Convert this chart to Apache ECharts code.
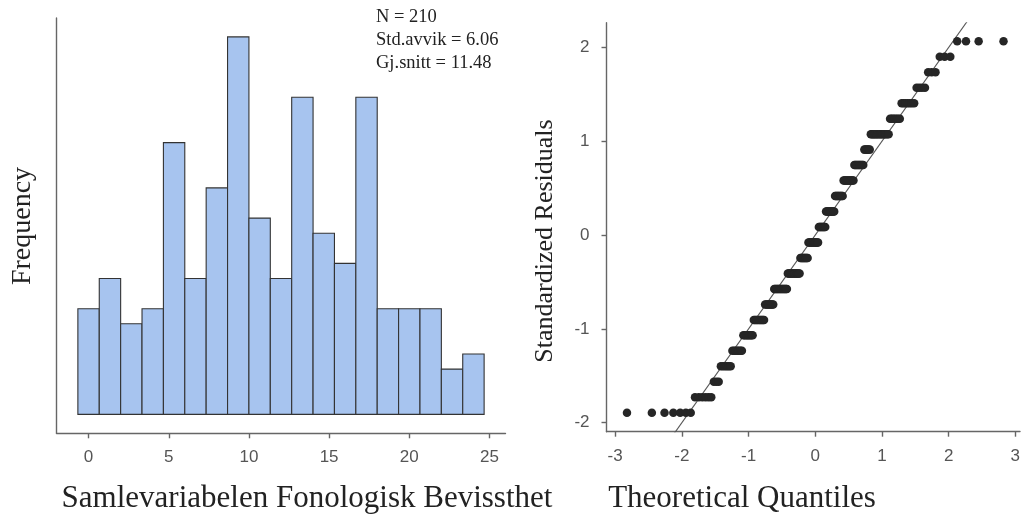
<!DOCTYPE html>
<html>
<head>
<meta charset="utf-8">
<script src="https://cdn.jsdelivr.net/npm/echarts@6/dist/echarts.min.js"></script>
<style>
html,body{margin:0;padding:0;background:#fff;}
#chart{width:1024px;height:520px;}
</style>
</head>
<body>
<div id="chart"></div>
<script>
// ---- Histogram data ----
const histEdges = [-0.667, 0.667, 2, 3.333, 4.667, 6, 7.333, 8.667, 10, 11.333, 12.667, 14, 15.333, 16.667, 18, 19.333, 20.667, 22, 23.333, 24.667];
const histFreq = [7, 9, 6, 7, 18, 9, 15, 25, 13, 9, 21, 12, 10, 21, 7, 7, 7, 3, 4];
const histTicks = [0, 5, 10, 15, 20, 25];
const statsLines = ['N = 210', 'Std.avvik = 6.06', 'Gj.snitt = 11.48'];
const histXTitle = 'Samlevariabelen Fonologisk Bevissthet';
const histYTitle = 'Frequency';

// ---- Q-Q plot data ----
const qqLevels = [-1.894, -1.729, -1.564, -1.399, -1.234, -1.069, -0.904, -0.739, -0.574, -0.409, -0.244, -0.079, 0.086, 0.251, 0.416, 0.581, 0.746, 0.911, 1.076, 1.241, 1.406, 1.571, 1.736, 1.901, 2.066];
const qqCounts = [7, 6, 3, 6, 7, 8, 10, 9, 15, 15, 10, 13, 9, 11, 10, 12, 10, 6, 15, 7, 7, 4, 3, 3, 4];
const qqTheoretical = [
 -2.823,-2.450,-2.260,-2.128,-2.025,-1.940,-1.867,-1.803,-1.745,-1.693,
 -1.645,-1.600,-1.559,-1.520,-1.483,-1.448,-1.415,-1.383,-1.352,-1.323,
 -1.295,-1.268,-1.242,-1.217,-1.192,-1.168,-1.145,-1.122,-1.100,-1.078,
 -1.057,-1.036,-1.016,-0.996,-0.977,-0.958,-0.939,-0.921,-0.903,-0.885,
 -0.868,-0.850,-0.833,-0.817,-0.800,-0.784,-0.768,-0.752,-0.736,-0.720,
 -0.705,-0.690,-0.674,-0.660,-0.645,-0.630,-0.615,-0.601,-0.587,-0.573,
 -0.559,-0.545,-0.531,-0.518,-0.504,-0.491,-0.477,-0.464,-0.451,-0.438,
 -0.425,-0.411,-0.398,-0.385,-0.373,-0.360,-0.347,-0.335,-0.322,-0.309,
 -0.297,-0.284,-0.272,-0.260,-0.247,-0.235,-0.223,-0.210,-0.198,-0.186,
 -0.174,-0.162,-0.150,-0.138,-0.126,-0.114,-0.102,-0.090,-0.078,-0.066,
 -0.054,-0.042,-0.030,-0.018,-0.006,
 0.006,0.018,0.030,0.042,0.054,
 0.066,0.078,0.090,0.102,0.114,0.126,0.138,0.150,0.162,0.174,
 0.186,0.198,0.210,0.223,0.235,0.247,0.260,0.272,0.284,0.297,
 0.309,0.322,0.335,0.347,0.360,0.373,0.385,0.398,0.411,0.425,
 0.438,0.451,0.464,0.477,0.491,0.504,0.518,0.531,0.545,0.559,
 0.573,0.587,0.601,0.615,0.630,0.645,0.660,0.674,0.690,0.705,
 0.720,0.736,0.752,0.768,0.784,0.800,0.817,0.833,0.850,0.868,
 0.885,0.903,0.921,0.939,0.958,0.977,0.996,1.016,1.036,1.057,
 1.078,1.100,1.122,1.145,1.168,1.192,1.217,1.242,1.268,1.295,
 1.323,1.352,1.383,1.415,1.448,1.483,1.520,1.559,1.600,1.645,
 1.693,1.745,1.803,1.867,1.940,2.025,2.128,2.260,2.450,2.823
];
const qqLine = [[-3, -3], [3, 3]];
const qqXTicks = [-3, -2, -1, 0, 1, 2, 3];
const qqYTicks = [-2, -1, 0, 1, 2];
const qqXTitle = 'Theoretical Quantiles';
const qqYTitle = 'Standardized Residuals';

// ---- build tables ----
const histData = histFreq.map((f, i) => [histEdges[i], histEdges[i + 1], f]);
const qqPoints = [];
let rank = 0;
qqLevels.forEach((lv, k) => {
  for (let j = 0; j < qqCounts[k]; j++) {
    qqPoints.push([qqTheoretical[rank], lv]);
    rank++;
  }
});

const axisGray = '#666';
const labelFont = 'Liberation Sans, Arial, sans-serif';
const serif = 'Liberation Serif, Times New Roman, serif';

const chart = echarts.init(document.getElementById('chart'), null, {renderer: 'canvas'});
chart.setOption({
  animation: false,
  backgroundColor: '#fff',
  grid: [
    {left: 56.5, right: 518.5, top: 18, bottom: 86.7},
    {left: 606.5, right: 4, top: 22.7, bottom: 88.3}
  ],
  xAxis: [
    {
      gridIndex: 0, type: 'value', min: -2, max: 26,
      axisLine: {show: true, onZero: false, lineStyle: {color: axisGray, width: 1.4}},
      axisTick: {show: true, customValues: histTicks, length: 5, lineStyle: {color: axisGray, width: 1.4}},
      axisLabel: {show: true, customValues: histTicks, margin: 16, color: '#555', fontSize: 17, fontFamily: labelFont},
      splitLine: {show: false}
    },
    {
      gridIndex: 1, type: 'value', min: -3.13, max: 3.07,
      axisLine: {show: true, onZero: false, lineStyle: {color: axisGray, width: 1.4}},
      axisTick: {show: true, customValues: qqXTicks, length: 5, lineStyle: {color: axisGray, width: 1.4}},
      axisLabel: {show: true, customValues: qqXTicks, margin: 16, color: '#555', fontSize: 17, fontFamily: labelFont},
      splitLine: {show: false}
    }
  ],
  yAxis: [
    {
      gridIndex: 0, type: 'value', min: -1.25, max: 26.25,
      axisLine: {show: true, onZero: false, lineStyle: {color: axisGray, width: 1.4}},
      axisTick: {show: false},
      axisLabel: {show: false},
      splitLine: {show: false}
    },
    {
      gridIndex: 1, type: 'value', min: -2.096, max: 2.264,
      axisLine: {show: true, onZero: false, lineStyle: {color: axisGray, width: 1.4}},
      axisTick: {show: true, customValues: qqYTicks, length: 5, lineStyle: {color: axisGray, width: 1.4}},
      axisLabel: {show: true, customValues: qqYTicks, margin: 17, color: '#555', fontSize: 17, fontFamily: labelFont},
      splitLine: {show: false}
    }
  ],
  series: [
    {
      type: 'custom',
      xAxisIndex: 0, yAxisIndex: 0,
      data: histData,
      encode: {x: [0, 1], y: 2},
      renderItem: function (params, api) {
        const p0 = api.coord([api.value(0), api.value(2)]);
        const p1 = api.coord([api.value(1), 0]);
        return {
          type: 'rect',
          shape: {x: p0[0], y: p0[1], width: p1[0] - p0[0], height: p1[1] - p0[1]},
          style: {fill: '#a7c4ef', stroke: '#333', lineWidth: 1.1}
        };
      }
    },
    {
      type: 'line',
      xAxisIndex: 1, yAxisIndex: 1,
      data: qqLine,
      clip: true,
      symbol: 'none',
      lineStyle: {color: '#555', width: 1.1},
      z: 1
    },
    {
      type: 'scatter',
      xAxisIndex: 1, yAxisIndex: 1,
      data: qqPoints,
      symbol: 'circle',
      symbolSize: 8.5,
      itemStyle: {color: '#262626', opacity: 1},
      z: 2
    }
  ],
  graphic: [
    {type: 'text', x: 376, y: 17, style: {text: statsLines[0], font: '18.5px ' + serif, fill: '#222', textAlign: 'left', textVerticalAlign: 'middle'}},
    {type: 'text', x: 376, y: 40.5, style: {text: statsLines[1], font: '18.5px ' + serif, fill: '#222', textAlign: 'left', textVerticalAlign: 'middle'}},
    {type: 'text', x: 376, y: 63, style: {text: statsLines[2], font: '18.5px ' + serif, fill: '#222', textAlign: 'left', textVerticalAlign: 'middle'}},
    {type: 'text', x: 307, y: 499, style: {text: histXTitle, font: '31px ' + serif, fill: '#222', textAlign: 'center', textVerticalAlign: 'middle'}},
    {type: 'text', x: 23, y: 226, rotation: Math.PI / 2, style: {text: histYTitle, font: '28px ' + serif, fill: '#222', textAlign: 'center', textVerticalAlign: 'middle'}},
    {type: 'text', x: 742, y: 499, style: {text: qqXTitle, font: '31px ' + serif, fill: '#222', textAlign: 'center', textVerticalAlign: 'middle'}},
    {type: 'text', x: 545, y: 241, rotation: Math.PI / 2, style: {text: qqYTitle, font: '26px ' + serif, fill: '#222', textAlign: 'center', textVerticalAlign: 'middle'}}
  ]
});
</script>
</body>
</html>
